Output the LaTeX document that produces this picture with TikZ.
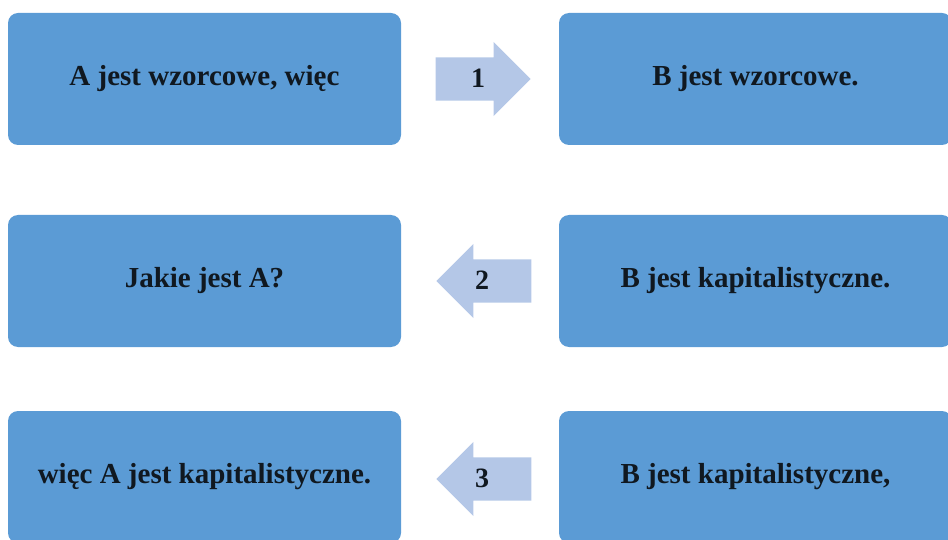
\documentclass[tikz,border=0pt]{standalone}
\usepackage{fontspec}
\setmainfont{Liberation Serif}
\usetikzlibrary{shapes.arrows}
\definecolor{boxblue}{HTML}{5B9BD5}
\definecolor{arrblue}{HTML}{B4C7E7}
\definecolor{txt}{HTML}{101820}
\tikzset{
  stepbox/.style={fill=boxblue, draw=none, rounded corners=10pt, minimum width=393pt, minimum height=132pt, inner sep=0pt, font=\fontsize{29}{34}\selectfont\bfseries, text=txt},
  flowarrow/.style={single arrow, fill=arrblue, draw=none, minimum height=95pt, inner xsep=0pt, inner ysep=21.5pt, text height=0pt, text depth=0pt, single arrow head extend=15.5pt, single arrow tip angle=90},
  numlabel/.style={inner sep=0pt, font=\fontsize{28}{32}\selectfont\bfseries, text=txt}
}
\begin{document}
\begin{tikzpicture}[x=1pt,y=-1pt]
\useasboundingbox (0,0) rectangle (948,540);
\node[stepbox] (a1) at (204.5,79) {A jest wzorcowe, więc};
\node[stepbox] (b1) at (755.5,79) {B jest wzorcowe.};
\node[stepbox] (a2) at (204.5,281) {Jakie jest A?};
\node[stepbox] (b2) at (755.5,281) {B jest kapitalistyczne.};
\node[stepbox] (a3) at (204.5,477) {więc A jest kapitalistyczne.};
\node[stepbox] (b3) at (755.5,477) {B jest kapitalistyczne,};
\node[flowarrow, anchor=tip] (r1) at (531,79) {};
\node[flowarrow, shape border rotate=180, anchor=tip] (r2) at (436,281) {};
\node[flowarrow, shape border rotate=180, anchor=tip] (r3) at (436,479) {};
\node[numlabel] (n1) at (478,78) {1};
\node[numlabel] (n2) at (482,280) {2};
\node[numlabel] (n3) at (482,478) {3};
\end{tikzpicture}
\end{document}
